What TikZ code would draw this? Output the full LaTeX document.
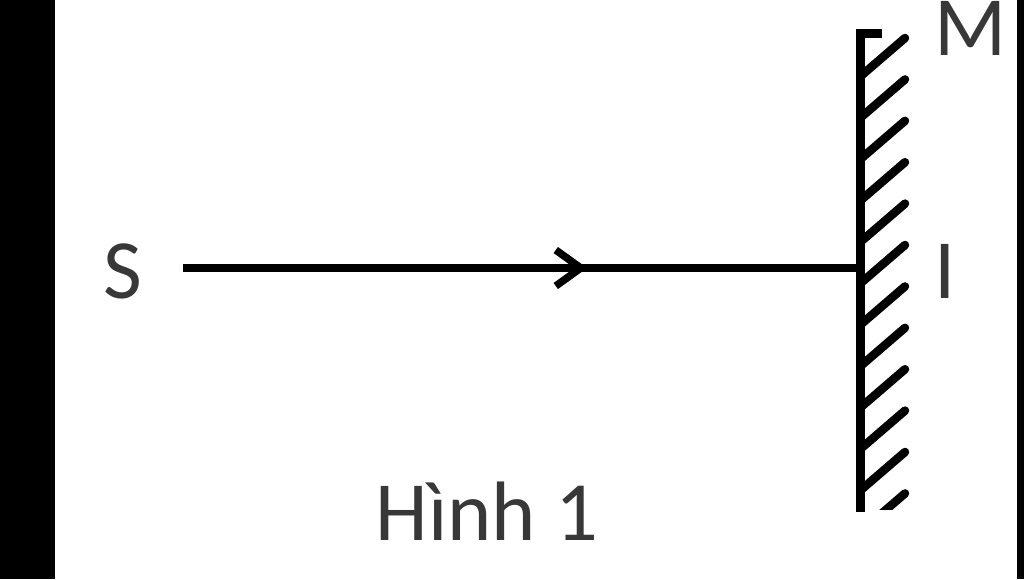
\documentclass[tikz,border=0pt]{standalone}
\usepackage{fontspec}
\setmainfont{Carlito}
\usetikzlibrary{arrows.meta,decorations.markings}

\begin{document}
\begin{tikzpicture}[x=0.02cm,y=-0.02cm]
    \tikzstyle{every node}+=[inner sep=0pt,text=black!78,font=\fontsize{48}{58}\selectfont]
    \tikzstyle{ray}=[line width=0.17cm,postaction={decorate},
      decoration={markings,mark=at position 0.597 with {\arrow{Straight Barb[length=0.5cm,width=0.72cm,line width=0.15cm]}}}]
    \useasboundingbox (0,0) rectangle (1024,579);
    \fill [white] (0,0) rectangle (1024,579);
    \fill [black] (0,0) rectangle (55,579);
    \fill [black] (1017,0) rectangle (1024,579);
    % mirror
    \draw [black,line width=0.18cm] (882,33) -- (860,33) -- (860,512);
    \begin{scope}
      \clip (860,31) rectangle (912,509);
      \foreach \k in {-1,...,12}
        \draw [black,line width=0.17cm,line cap=round] (862,38+41.4*\k+37) -- (905,38+41.4*\k);
    \end{scope}
    % ray
    \coordinate (S0) at (183,268);
    \coordinate (I) at (860,268);
    \draw [black,ray] (S0) -- (I);
    \draw (123,298) node [anchor=base] (S) {S};
    \draw (945,298) node [anchor=base] (Il) {I};
    \draw (971,55) node [anchor=base] (M) {M};
    \draw (487,540) node [anchor=base] (cap) {Hình 1};
\end{tikzpicture}
\end{document}
